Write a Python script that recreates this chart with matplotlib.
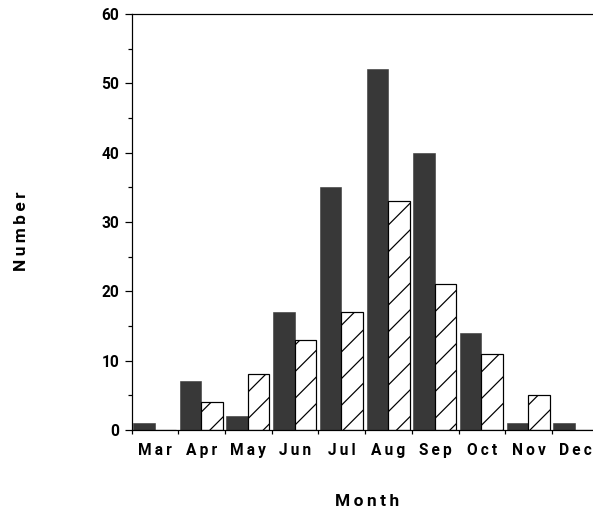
import matplotlib
matplotlib.use("Agg")
import matplotlib.pyplot as plt
import numpy as np

plt.rcParams['font.family'] = ['Roboto', 'DejaVu Sans']
plt.rcParams['font.weight'] = 'bold'
plt.rcParams['hatch.linewidth'] = 1.1

TS = "\u2009"  # thin space, the original has wide letter spacing
months = ["Mar", "Apr", "May", "Jun", "Jul", "Aug", "Sep", "Oct", "Nov", "Dec"]
solid = [1, 7, 2, 17, 35, 52, 40, 14, 1, 1]
hatched = [0, 4, 8, 13, 17, 33, 21, 11, 5, 0]

dpi = 80
fig = plt.figure(figsize=(593 / dpi, 513 / dpi), dpi=dpi)
ax = fig.add_axes([0.222, 0.162, 0.7875, 0.811])

x = np.arange(len(months))
w = 0.46
ax.bar(x - 0.24, solid, w, color='#383838', edgecolor='#383838', linewidth=0.5)
ax.bar(x + 0.22, hatched, w, color='white', edgecolor='black', hatch='/', linewidth=1.1)

ax.set_xlim(-0.5, 9.5)
ax.set_ylim(0, 60)

ax.set_xticks(np.arange(-0.5, 10, 1))
ax.set_xticklabels([])
ax.set_xticks(x, minor=True)
ax.set_xticklabels([TS.join(m) for m in months], minor=True, fontsize=14, fontweight='bold')
ax.tick_params(axis='x', which='minor', length=0, pad=12)
ax.tick_params(axis='x', which='major', length=4, width=1.1, direction='out')

ax.set_yticks(range(0, 61, 10))
ax.set_yticks(range(5, 60, 10), minor=True)
ax.tick_params(axis='y', which='major', length=6.3, width=1.1, labelsize=14, pad=5)
ax.tick_params(axis='y', which='minor', length=4, width=1.1)
for t in ax.get_yticklabels():
    t.set_fontweight('bold')

for s in ['left', 'bottom', 'top']:
    ax.spines[s].set_linewidth(1.1)
ax.spines['right'].set_visible(False)

fig.text(22 / 593, 1 - 231 / 513, TS.join("Number"), rotation=90, ha='center', va='center',
         fontsize=15.5, fontweight='bold')
fig.text(367 / 593, 1 - 502 / 513, TS.join("Month"), ha='center', va='center',
         fontsize=15.5, fontweight='bold')

fig.savefig("out.png", dpi=dpi)
